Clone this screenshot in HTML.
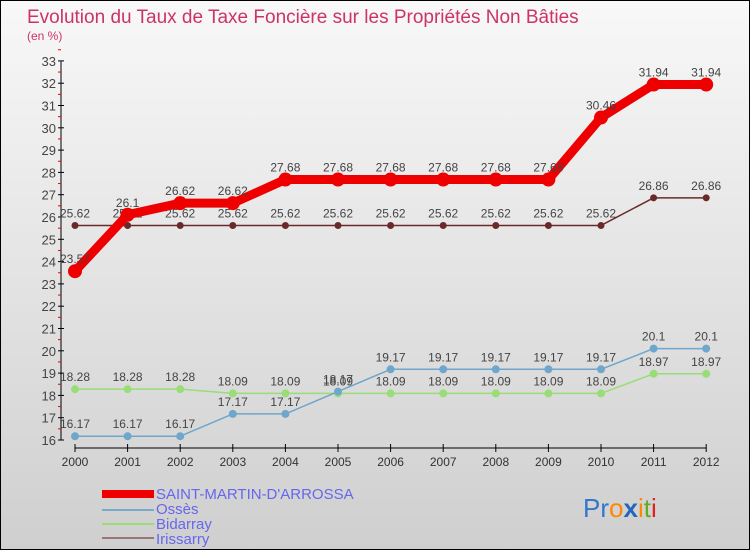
<!DOCTYPE html>
<html><head><meta charset="utf-8"><style>
body{margin:0;width:750px;height:550px;overflow:hidden;font-family:"Liberation Sans",sans-serif}
#wrap{position:relative;width:748px;height:548px;border:1px solid #000;background:linear-gradient(#f8f8f8,#cfcfcf)}
</style></head><body>
<div id="wrap">
<svg id="chart" width="748" height="548">
<text x="26" y="22" font-size="19" fill="#cc3366">Evolution du Taux de Taxe Foncière sur les Propriétés Non Bâties</text>
<text x="26" y="39" font-size="12" fill="#cc3366">(en %)</text>
<g id="axes"></g><g id="series"></g>
<g>
<rect x="101" y="489" width="52" height="8" fill="#e00"/>
<text x="155" y="498" font-size="15" fill="#6666ee">SAINT-MARTIN-D'ARROSSA</text>
<rect x="101" y="508" width="52" height="2" fill="#7aaac8"/>
<text x="155" y="513" font-size="15" fill="#6666ee">Ossès</text>
<rect x="101" y="522" width="52" height="2" fill="#99dd77"/>
<text x="155" y="528" font-size="15" fill="#6666ee">Bidarray</text>
<rect x="101" y="536" width="52" height="2" fill="#997777"/>
<text x="155" y="543" font-size="15" fill="#6666ee">Irissarry</text>
</g>
<text x="582" y="516" font-size="26"><tspan fill="#3377cc">Pr</tspan><tspan fill="#ff8800">o</tspan><tspan fill="#2266bb" font-weight="bold">x</tspan><tspan fill="#ff8800">i</tspan><tspan fill="#66aa22">t</tspan><tspan fill="#dd2222">i</tspan></text>
</svg></div>
<script>
const years=[2000,2001,2002,2003,2004,2005,2006,2007,2008,2009,2010,2011,2012];
const saintMartin=[23.57,26.1,26.62,26.62,27.68,27.68,27.68,27.68,27.68,27.68,30.46,31.94,31.94];
const osses=[16.17,16.17,16.17,17.17,17.17,18.17,19.17,19.17,19.17,19.17,19.17,20.1,20.1];
const bidarray=[18.28,18.28,18.28,18.09,18.09,18.09,18.09,18.09,18.09,18.09,18.09,18.97,18.97];
const irissarry=[25.62,25.62,25.62,25.62,25.62,25.62,25.62,25.62,25.62,25.62,25.62,26.86,26.86];
const yTicks=[16,17,18,19,20,21,22,23,24,25,26,27,28,29,30,31,32,33];
const NS="http://www.w3.org/2000/svg";
const xs=i=>74+i*52.6;
const ys=v=>439-(v-16)*22.3;
function mk(tag,attrs,parent){const e=document.createElementNS(NS,tag);for(const k in attrs)e.setAttribute(k,attrs[k]);parent.appendChild(e);return e;}
const ax=document.getElementById('axes'),sr=document.getElementById('series');
let l=mk('line',{x1:60,y1:ys(33),x2:60,y2:ys(16),stroke:'#000'},ax);


yTicks.forEach(t=>{
 mk('line',{x1:57,x2:63,y1:ys(t),y2:ys(t),stroke:'#000'},ax);
 mk('line',{x1:57,x2:60,y1:ys(t+0.5),y2:ys(t+0.5),stroke:'#e00'},ax);
 const tx=mk('text',{x:55,y:ys(t)+5,'text-anchor':'end','font-size':13,fill:'#444'},ax);
 tx.textContent=t;
 
 
});
l=mk('line',{x1:xs(0),y1:447,x2:xs(12),y2:447,stroke:'#000'},ax);


years.forEach((y,i)=>{
 mk('line',{x1:xs(i),x2:xs(i),y1:443,y2:451,stroke:'#000'},ax);
 const tx=mk('text',{x:xs(i),y:465,'text-anchor':'middle','font-size':12,fill:'#333'},ax);
 tx.textContent=y;
 
 
});
function series(vals,color,w,r,name){
 const g=mk('g',{},sr);
 
 
 mk('polyline',{points:vals.map((v,i)=>xs(i)+','+ys(v)).join(' '),fill:'none',stroke:color,'stroke-width':w,'stroke-linejoin':'round'},g);
 vals.forEach((v,i)=>{
  const c=mk('circle',{cx:xs(i),cy:ys(v),r:r,fill:color},g);
  
  
  const t=mk('text',{x:xs(i),y:ys(v)-8,'text-anchor':'middle','font-size':12,fill:'#444'},g);
  t.textContent=v;
  
  
 });
}
series(irissarry,'#6b2a2a',1.5,3.5,'irissarry-series');
series(bidarray,'#99dd77',1.5,4,'bidarray-series');
series(osses,'#6fa6cc',1.5,4,'osses-series');
series(saintMartin,'#ee0000',9,7,'saint-martin-series');
</script>
</body></html>
